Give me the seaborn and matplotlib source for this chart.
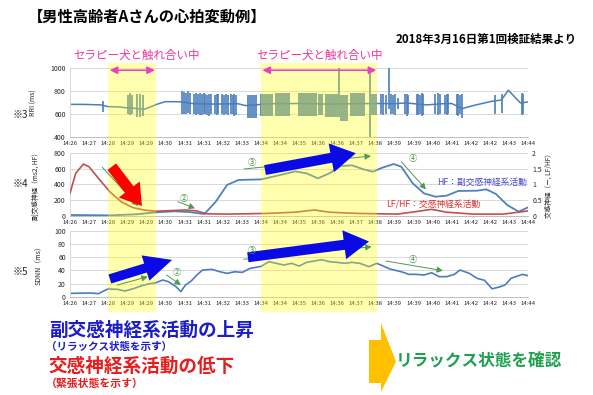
import matplotlib
matplotlib.use("Agg")
import matplotlib.pyplot as plt
import matplotlib.transforms as mtransforms
from matplotlib.patches import Rectangle, FancyArrowPatch, Polygon
import seaborn as sns

sns.set_theme(style="white")
plt.rcParams["font.family"] = ["Noto Sans CJK JP", "DejaVu Sans"]

# -- data --------------------------------------------------------------------
time_labels = ["14:26", "14:27", "14:28", "14:29", "14:29", "14:30", "14:31",
               "14:31", "14:32", "14:33", "14:34", "14:34", "14:35", "14:36",
               "14:36", "14:37", "14:38", "14:39", "14:39", "14:40", "14:41",
               "14:42", "14:42", "14:43", "14:44"]

# therapy-dog contact periods (category index)
band_start = [2.0, 10.0]
band_end = [4.5, 16.1]

# RRI baseline
rri_x = [0, 0.8, 1.6, 2.0, 2.6, 3.0, 3.4, 3.9, 4.2, 4.6, 5.0, 5.8, 6.4, 7.5,
         8.8, 9.2, 10.5, 12.0, 13.5, 15.0, 16.2, 17.0, 17.6, 18.7, 19.5, 20.0,
         20.55, 21.2, 22.1, 22.6, 22.97, 23.6, 24.0]
rri_y = [683, 682, 678, 663, 660, 652, 648, 640, 660, 686, 706, 705, 690, 685,
         688, 672, 688, 690, 685, 688, 690, 688, 695, 678, 688, 690,
         646, 675, 709, 720, 805, 695, 703]
# RRI single beats (spikes)
spike_x = [1.71, 3.06, 3.14, 3.23, 3.53, 3.67, 3.81,
           5.88, 5.98, 6.08, 6.2, 6.28, 6.48, 6.58, 6.7, 6.8, 6.9, 7.0, 7.1,
           7.2, 7.3, 7.4, 7.58, 7.68, 7.76, 7.97, 8.07, 8.17, 8.28, 8.42, 8.52,
           8.62, 8.72,
           14.1, 15.72, 16.3, 16.42, 16.55, 16.7, 16.82, 16.93, 17.03, 17.2,
           17.56, 17.65, 17.73, 18.17, 18.26, 18.34, 18.43, 18.52, 19.13, 19.27,
           19.39, 19.65, 19.74, 19.83, 20.27, 20.35, 20.44, 20.53, 22.27, 22.62,
           23.67, 23.74]
spike_lo = [616, 595, 593, 600, 575, 573, 580,
            600, 602, 598, 605, 600, 595, 590, 600, 592, 588, 595, 600,
            590, 585, 596, 600, 590, 598, 595, 588, 600, 590, 595, 600,
            585, 592,
            573, 400, 600, 590, 598, 645, 595, 600, 590, 640,
            595, 585, 600, 590, 588, 596, 585, 592, 600, 590,
            595, 598, 588, 600, 590, 585, 595, 565, 600, 605,
            593, 598]
spike_hi = [712, 760, 780, 765, 770, 775, 760,
            796, 790, 785, 795, 780, 770, 780, 775, 785, 770, 780, 772,
            760, 775, 770, 765, 775, 770, 775, 760, 770, 765, 775, 760,
            770, 765,
            1000, 1000, 770, 775, 765, 1000, 770, 760, 775, 740,
            770, 775, 765, 770, 775, 765, 778, 770, 775, 780,
            770, 765, 775, 770, 775, 770, 765, 772, 760, 770,
            784, 775]
# RRI dense beat clusters
block_x0 = [9.26, 9.98, 10.74, 11.97, 13.0, 13.37, 14.15, 14.68, 15.76]
block_x1 = [9.78, 10.66, 11.53, 12.93, 13.28, 14.06, 14.59, 15.46, 16.07]
block_lo = [568, 585, 580, 585, 590, 572, 535, 578, 588]
block_hi = [762, 775, 780, 778, 770, 775, 762, 780, 775]

# HF (ms2, left axis)
hf_x = [0, 2.08, 3.5, 4.46, 5.46, 6.25, 7.04, 7.64, 8.23, 8.83, 10.02, 11.01,
        11.8, 12.4, 12.99, 13.59, 14.19, 14.78, 15.38, 15.87, 16.37, 16.96,
        17.36, 17.96, 18.55, 19.15, 19.74, 20.34, 21.33, 21.82, 22.32, 22.91,
        23.51, 24.0]
hf_y = [13, 8, 22, 46, 59, 50, 25, 181, 392, 455, 463, 518,
        564, 539, 476, 539, 632, 640, 590, 560, 611, 657,
        623, 413, 286, 244, 257, 316, 320, 337, 278, 139,
        55, 109]

# LF/HF (right axis)
lf_x = [0, 0.3, 0.7, 0.99, 1.49, 2.08, 2.68, 3.27, 3.87, 4.46, 5.26, 6.05,
        6.65, 7.14, 8.23, 10.2, 11.8, 12.8, 13.59, 15.18, 17.16, 18.15, 18.95,
        19.74, 21.13, 22.7, 24.0]
lf_y = [0.72, 1.35, 1.64, 1.56, 1.19, 0.77, 0.45, 0.27, 0.19, 0.15, 0.17, 0.19,
        0.16, 0.07, 0.06, 0.08, 0.12, 0.19, 0.12, 0.08, 0.06, 0.14, 0.21,
        0.12, 0.06, 0.06, 0.16]

# SDNN (ms)
sdnn_x = [0, 1.09, 1.49, 1.69, 1.98, 2.48, 2.88, 3.37, 3.77, 4.17, 4.46, 4.86,
          5.16, 5.56, 5.81, 6.05, 6.35, 6.65, 6.94, 7.44, 7.84, 8.23, 8.63,
          9.03, 9.42, 10.02, 10.42, 10.81, 11.21, 11.61, 12.0, 12.4, 12.8,
          13.19, 13.59, 13.99, 14.38, 14.78, 15.18, 15.67, 16.07, 16.37, 16.77,
          17.36, 17.76, 18.15, 18.55, 18.95, 19.34, 19.74, 20.14, 20.44, 20.93,
          21.33, 21.72, 22.12, 22.52, 22.81, 23.11, 23.41, 23.71, 24.0]
sdnn_y = [5.1, 5.6, 4.6, 7.6, 11.7, 11.2, 8.6, 12.7, 16.8, 19.8, 20.8, 25.4,
          22.8, 15.2, 7.6, 17.8, 23.9, 33, 40.6, 41.6, 38.1, 35.5, 38,
          37, 43, 46.2, 53.3, 50.8, 48.2, 50.8, 46.7, 52.3, 54.3,
          56.3, 53.3, 52.3, 50.8, 52.3, 50.8, 45.7, 50.8, 47.2, 42.1,
          38, 34, 34, 33, 36.5, 30.5, 30.5, 34, 40.6, 35.5,
          27.9, 25, 12, 15, 18, 28, 31, 34, 32]

# -- figure ------------------------------------------------------------------
W, H = 593, 395
fig = plt.figure(figsize=(W / 100, H / 100), dpi=100)
fig.patch.set_facecolor("white")


def px_box(x0, y0, x1, y1):
    return [x0 / W, 1 - y1 / H, (x1 - x0) / W, (y1 - y0) / H]


def style(ax, ylim, yticks):
    ax.set_xlim(0, 24)
    ax.set_ylim(*ylim)
    ax.set_xticks(range(25))
    ax.set_xticklabels(time_labels, fontsize=4.3)
    ax.set_yticks(yticks)
    ax.tick_params(axis="y", length=0, labelsize=5, pad=3)
    ax.tick_params(axis="x", length=2, color="#BFBFBF", pad=1, width=0.6)
    ax.yaxis.grid(True, color="#D9D9D9", lw=0.7)
    ax.xaxis.grid(False)
    for s in ["top", "right"]:
        ax.spines[s].set_visible(False)
    ax.spines["left"].set_color("#D9D9D9")
    ax.spines["bottom"].set_color("#BFBFBF")
    ax.spines["left"].set_linewidth(0.7)
    ax.spines["bottom"].set_linewidth(0.7)
    ax.set_xlabel("")


BLUE = "#4A7EBB"
RED = "#C0504D"
GREEN = "#4E9A4E"

ax1 = fig.add_axes(px_box(70, 67.7, 528, 137))
ax2 = fig.add_axes(px_box(70, 152.7, 528, 216))
ax3 = fig.add_axes(px_box(70, 231, 528, 296.7))

# panel 1: RRI
sns.lineplot(x=rri_x, y=rri_y, ax=ax1, color=BLUE, lw=1.1, estimator=None)
ax1.vlines(spike_x, spike_lo, spike_hi, color=BLUE, lw=1.2)
for x0, x1, lo, hi in zip(block_x0, block_x1, block_lo, block_hi):
    ax1.fill_between([x0, x1], [lo, lo], [hi, hi], color=BLUE, lw=0, alpha=0.85)
style(ax1, (400, 1000), [400, 600, 800, 1000])
ax1.set_ylabel("RRI (ms)", fontsize=5)
ax1.yaxis.set_label_coords(-0.07, 0.5)

# panel 2: HF and LF/HF
sns.lineplot(x=hf_x, y=hf_y, ax=ax2, color="#4F81BD", lw=1.3, estimator=None)
style(ax2, (0, 800), [0, 200, 400, 600, 800])
ax2.set_ylabel("副交感神経（ms2, HF）", fontsize=4.8)
ax2.yaxis.set_label_coords(-0.066, 0.5)
ax2r = ax2.twinx()
sns.lineplot(x=lf_x, y=lf_y, ax=ax2r, color=RED, lw=1.2, estimator=None)
ax2r.set_ylim(0, 2)
ax2r.set_yticks([0, 0.5, 1, 1.5, 2])
ax2r.set_yticklabels(["0", "0.5", "1", "1.5", "2"])
ax2r.tick_params(axis="y", length=0, labelsize=5, pad=3)
for s in ax2r.spines.values():
    s.set_visible(False)
ax2r.grid(False)
ax2r.set_ylabel("交感神経（－, LF/HF）", fontsize=4.8)
ax2r.yaxis.set_label_coords(1.037, 0.5)

# panel 3: SDNN
sns.lineplot(x=sdnn_x, y=sdnn_y, ax=ax3, color=BLUE, lw=1.2, estimator=None)
style(ax3, (0, 100), [0, 20, 40, 60, 80, 100])
ax3.set_ylabel("SDNN（ms）", fontsize=5)
ax3.yaxis.set_label_coords(-0.059, 0.5)

# yellow contact bands spanning all panels (drawn above the axes)
band_tr = mtransforms.blended_transform_factory(ax1.transData, fig.transFigure)
for x0, x1 in zip(band_start, band_end):
    fig.add_artist(Rectangle((x0, 1 - 312 / H), x1 - x0, (312 - 63) / H,
                             transform=band_tr, facecolor="#FFFF00",
                             alpha=0.32, lw=0, zorder=2))


def arrow(ax, p0, p1, color, astyle, lw=0.0, ms=10):
    fig.add_artist(FancyArrowPatch(p0, p1, transform=ax.transData,
                                   arrowstyle=astyle, mutation_scale=ms,
                                   color=color, lw=lw, shrinkA=0, shrinkB=0,
                                   zorder=4))


def label(ax, x, y, s, **kw):
    fig.text(x, y, s, transform=ax.transData, zorder=5, **kw)


thin = "-|>,head_length=0.35,head_width=0.18"
big = "simple,head_length=1.8,head_width=2.1,tail_width=0.72"

# magenta double arrows over the bands
for x0, x1 in zip(band_start, band_end):
    arrow(ax1, (x0 + 0.08, 978), (x1 - 0.05, 978), "#E83FC8",
          "<|-|>,head_length=0.45,head_width=0.22", lw=1.1)
fig.text(137 / W, 1 - 55 / H, "セラピー犬と触れ合い中", color="#F0339A",
         fontsize=8.3, ha="center", va="center", zorder=5)
fig.text(320 / W, 1 - 55 / H, "セラピー犬と触れ合い中", color="#F0339A",
         fontsize=8.3, ha="center", va="center", zorder=5)

# panel 2 annotations
arrow(ax2, (1.69, 616), (3.57, 126), GREEN, thin, lw=0.7)
arrow(ax2, (5.66, 181), (6.55, 97), GREEN, thin, lw=0.7)
arrow(ax2, (9.12, 594), (15.77, 758), GREEN, thin, lw=0.7)
arrow(ax2, (17.36, 686), (18.65, 337), GREEN, thin, lw=0.7)
arrow(ax2, (2.19, 623), (3.77, 126), "#FF0000",
      "simple,head_length=1.5,head_width=1.9,tail_width=0.78")
arrow(ax2, (10.22, 581), (14.98, 793), "#0A0AE6", big)
label(ax2, 5.95, 224, "②", color=GREEN, fontsize=6, ha="center", va="center")
label(ax2, 9.52, 679, "③", color=GREEN, fontsize=6, ha="center", va="center")
label(ax2, 17.96, 729, "④", color=GREEN, fontsize=6, ha="center", va="center")
label(ax2, 23.95, 421, "HF：副交感神経系活動", color="#4848D0", fontsize=6.3,
      ha="right", va="center")
label(ax2, 16.56, 152, "LF/HF：交感神経系活動", color="#E03030", fontsize=6.3,
      ha="left", va="center")

# panel 3 annotations
arrow(ax3, (2.48, 17.8), (4.07, 30.4), GREEN, thin, lw=0.7)
arrow(ax3, (5.06, 33), (5.81, 17.8), GREEN, thin, lw=0.7)
arrow(ax3, (9.1, 57), (15.8, 76), GREEN, thin, lw=0.7)
arrow(ax3, (16.56, 54.3), (19.54, 39.6), GREEN, thin, lw=0.7)
arrow(ax3, (2.09, 27), (5.35, 56), "#0A0AE6",
      "simple,head_length=2.0,head_width=1.9,tail_width=0.68")
arrow(ax3, (9.32, 60), (15.67, 84), "#0A0AE6", big)
label(ax3, 5.61, 37, "②", color=GREEN, fontsize=6, ha="center", va="center")
label(ax3, 9.52, 71, "③", color=GREEN, fontsize=6, ha="center", va="center")
label(ax3, 17.96, 56, "④", color=GREEN, fontsize=6, ha="center", va="center")

# headings and notes
fig.text(28 / W, 1 - 17 / H, "【男性高齢者Aさんの心拍変動例】", fontsize=11,
         fontweight="bold", ha="left", va="center", color="black")
fig.text(577 / W, 1 - 39.5 / H, "2018年3月16日第1回検証結果より", fontsize=8.3,
         fontweight="bold", ha="right", va="center", color="black")
for yy, s in [(115, "※3"), (184.3, "※4"), (272.3, "※5")]:
    fig.text(20 / W, 1 - yy / H, s, fontsize=7.2, ha="center", va="center")

# bottom summary
fig.text(49 / W, 1 - 330 / H, "副交感神経系活動の上昇", fontsize=13.4,
         fontweight="bold", color="#1C1CC8", ha="left", va="center")
fig.text(46 / W, 1 - 346.7 / H, "（リラックス状態を示す）", fontsize=7.6,
         fontweight="bold", color="#1C1CC8", ha="left", va="center")
fig.text(49 / W, 1 - 366.7 / H, "交感神経系活動の低下", fontsize=13.4,
         fontweight="bold", color="#E61E1E", ha="left", va="center")
fig.text(46 / W, 1 - 383.3 / H, "（緊張状態を示す）", fontsize=7.8,
         fontweight="bold", color="#E61E1E", ha="left", va="center")
arrow_px = [(369, 340), (381, 340), (381, 323), (396, 361.7), (381, 392),
            (381, 383), (369, 383)]
fig.add_artist(Polygon([(x / W, 1 - y / H) for x, y in arrow_px],
                       closed=True, transform=fig.transFigure,
                       facecolor="#FFC000", lw=0))
fig.text(396 / W, 1 - 360 / H, "リラックス状態を確認", fontsize=12,
         fontweight="bold", color="#20A050", ha="left", va="center")

fig.savefig("out.png", dpi=100)
